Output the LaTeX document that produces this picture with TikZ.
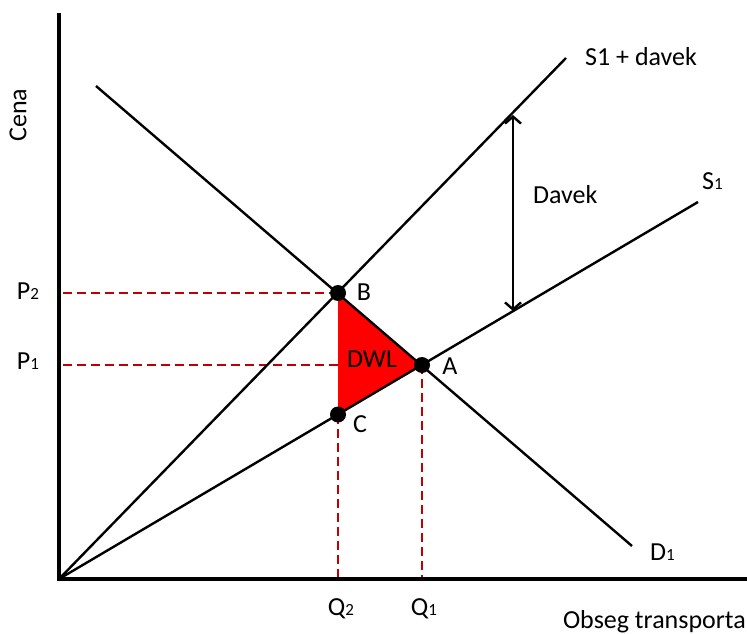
\documentclass[tikz,border=0pt]{standalone}
\usepackage{fontspec}
\setmainfont{Carlito}
\usetikzlibrary{arrows.meta}
\definecolor{dashred}{HTML}{C00000}
\newcommand\sbs[1]{{\fontsize{17}{17}\selectfont #1}}
\begin{document}
\begin{tikzpicture}[x=1pt,y=-1pt,
  curve/.style={line width=2.4pt},
  axisline/.style={line width=3.8pt},
  guide/.style={draw=dashred, line width=2.8pt, dash pattern=on 9pt off 5pt},
  dot/.style={circle, fill=black, inner sep=0pt, minimum size=16pt},
  lbl/.style={font=\fontsize{26}{26}\selectfont, inner sep=0pt}]
\useasboundingbox (0,0) rectangle (747,634);
% key points
\coordinate (O) at (59,579);
\coordinate (Ytop) at (59,13);
\coordinate (Xend) at (747,579);
\coordinate (S2end) at (566,58);
\coordinate (S1end) at (698,202);
\coordinate (Dstart) at (96,86);
\coordinate (Dend) at (632,546);
\coordinate (Bp) at (338,293);
\coordinate (Ap) at (422,365);
\coordinate (Cp) at (338,414.5);
\coordinate (T1) at (513,115);
\coordinate (T2) at (513,311);
% dashed guides
\draw[guide] (Bp) -- (Bp -| O);
\draw[guide] (Ap) -- (Ap -| O);
\draw[guide] (Cp) -- (Cp |- O);
\draw[guide] (Ap) -- (Ap |- O);
% DWL triangle
\fill[red] (Bp) -- (Ap) -- (Cp) -- cycle;
% curves
\draw[curve] (O) -- (S2end);
\draw[curve] (O) -- (S1end);
\draw[curve] (Dstart) -- (Dend);
\draw[curve, {Straight Barb[length=7pt,width=16pt]}-{Straight Barb[length=7pt,width=16pt]}] (T1) -- (T2);
% axes
\draw[axisline] (Ytop) -- (O) -- (Xend);
% points
\node[dot] (B) at (Bp) {};
\node[dot] (A) at (Ap) {};
\node[dot] (C) at (Cp) {};
% labels
\node[lbl] (lB) at (364,292) {B};
\node[lbl] (lA) at (450,366) {A};
\node[lbl] (lC) at (360,424) {C};
\node[lbl] (lDWL) at (372,359) {DWL};
\node[lbl] (lP2) at (28,291) {P\sbs{2}};
\node[lbl] (lP1) at (28,361) {P\sbs{1}};
\node[lbl] (lQ2) at (341,609) {Q\sbs{2}};
\node[lbl] (lQ1) at (424,609) {Q\sbs{1}};
\node[lbl, anchor=east] (lX) at (746,622) {Obseg transporta};
\node[lbl, rotate=90] (lY) at (18,115) {Cena};
\node[lbl, anchor=west] (lS2) at (585,57) {S1 + davek};
\node[lbl, anchor=west] (lS1) at (702,181) {S\sbs{1}};
\node[lbl, anchor=west] (lDav) at (533,195) {Davek};
\node[lbl, anchor=west] (lD) at (650,552) {D\sbs{1}};
\end{tikzpicture}
\end{document}
